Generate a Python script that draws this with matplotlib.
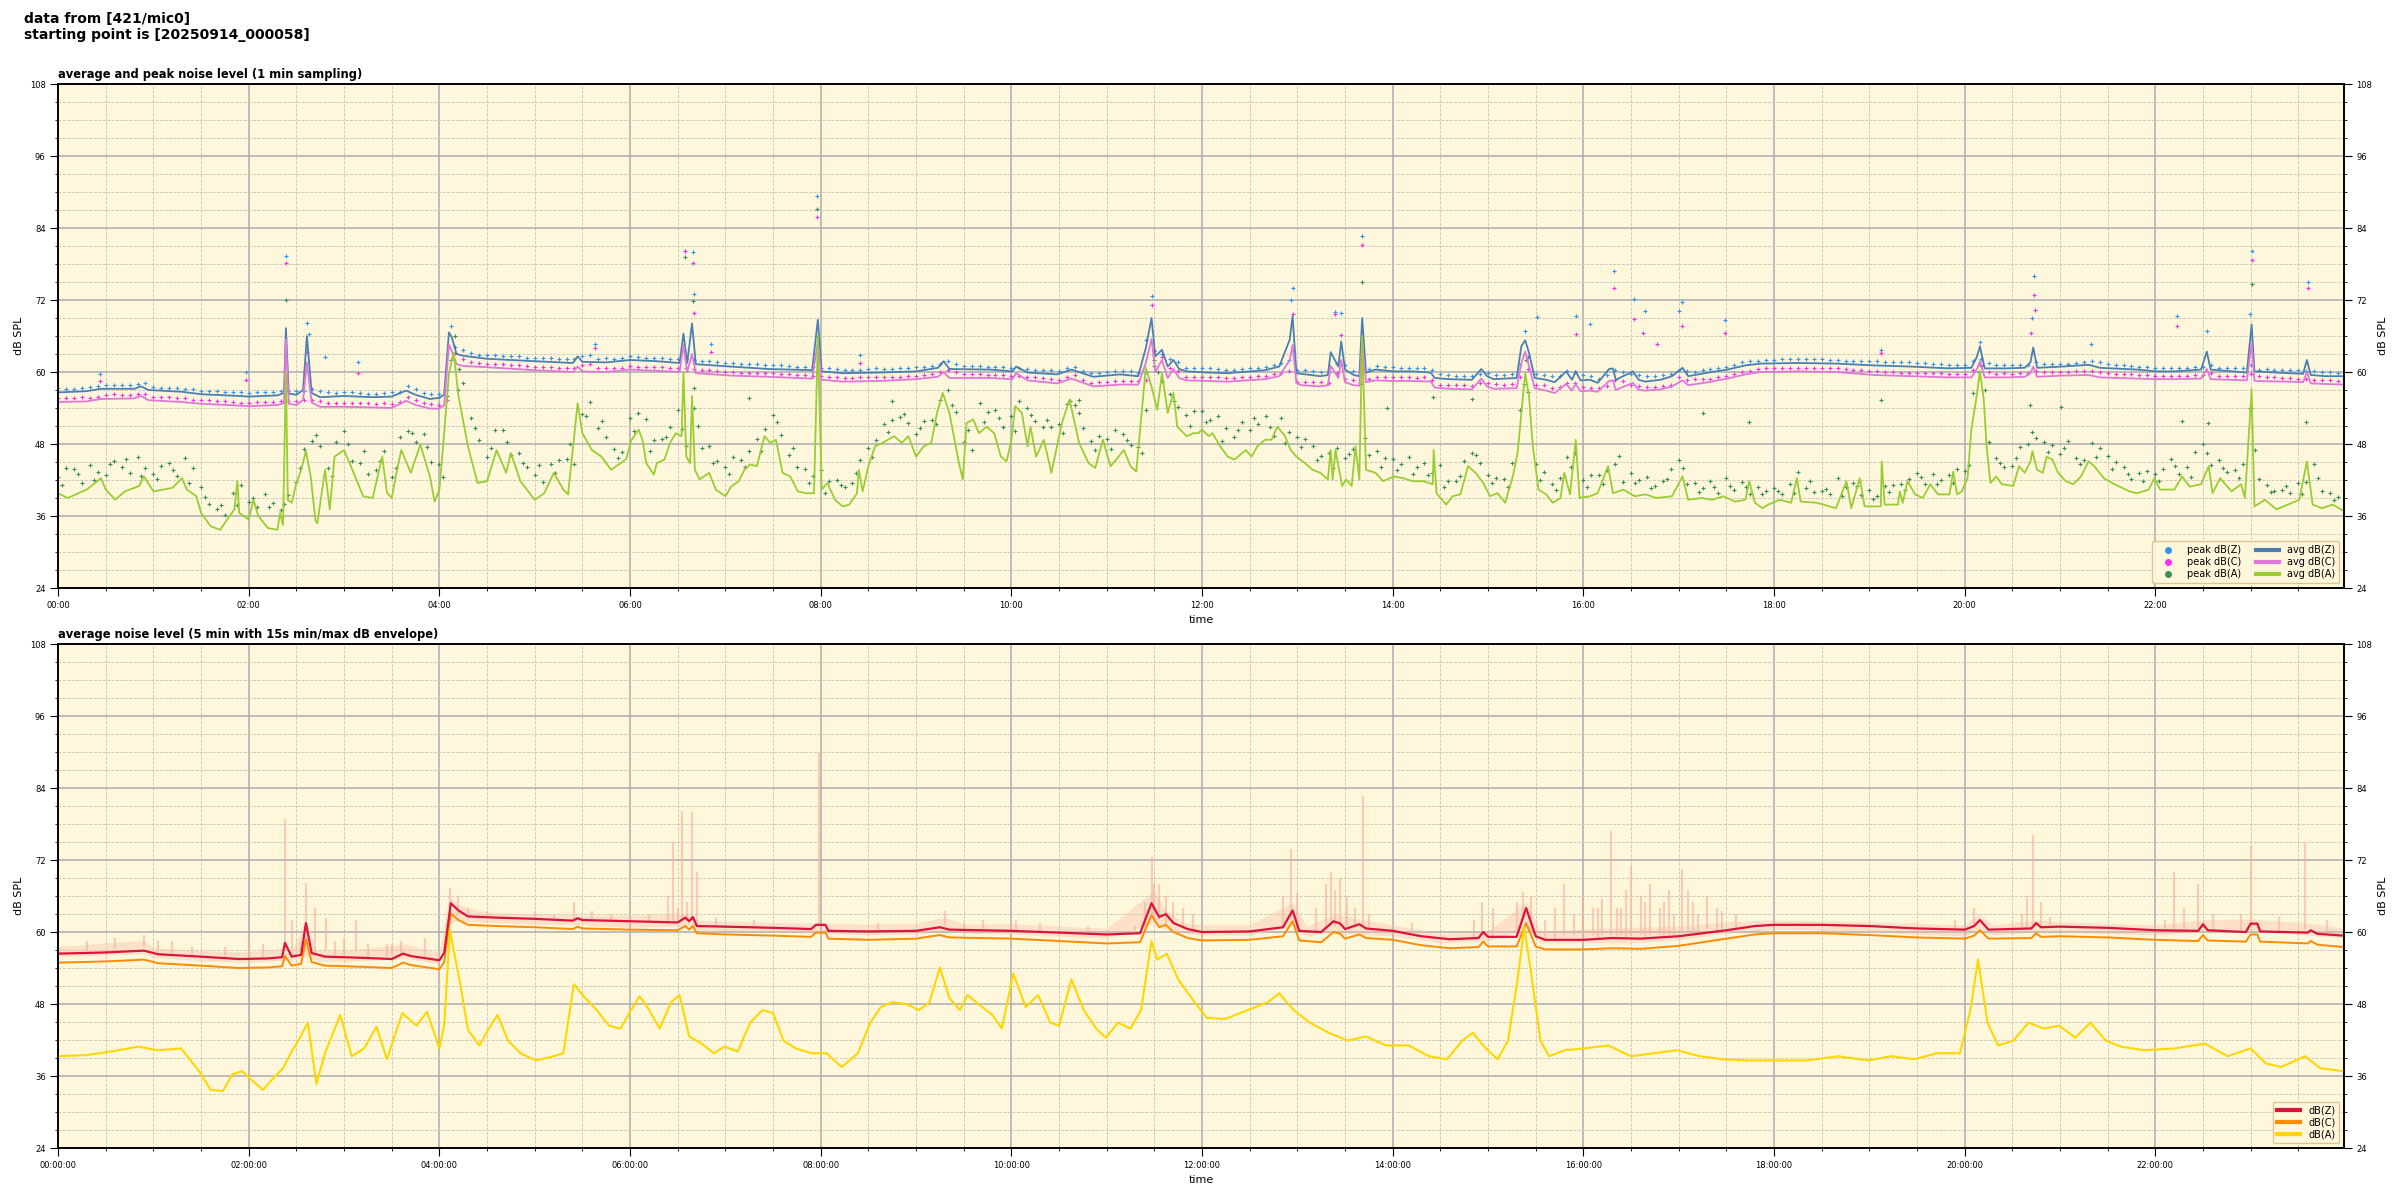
import numpy as np
import matplotlib
matplotlib.use("Agg")
import matplotlib.pyplot as plt
from matplotlib.ticker import MultipleLocator, FuncFormatter
from matplotlib.lines import Line2D

# ---------------- data (hours, dB) ----------------
avg_z = [(0.0,56.6),(0.3,56.8),(0.45,57.2),(0.8,57.2),(0.87,57.6),(0.95,57.0),(1.3,56.7),(1.5,56.3),
 (1.9,56.0),(2.0,55.9),(2.3,56.1),(2.37,56.5),(2.39,67.3),(2.42,56.4),(2.5,56.2),(2.57,57.0),(2.61,66.0),
 (2.66,56.5),(2.75,55.8),(3.0,56.0),(3.3,55.8),(3.5,55.9),(3.65,56.9),(3.75,56.2),(3.9,55.5),(4.0,55.7),
 (4.05,56.2),(4.1,66.6),(4.13,65.8),(4.18,63.0),(4.25,62.7),(4.5,62.2),(5.0,61.8),(5.4,61.5),(5.45,62.6),
 (5.5,61.7),(5.75,61.6),(6.0,62.0),(6.28,61.8),(6.52,61.5),(6.56,66.4),(6.6,61.5),(6.65,68.1),(6.69,61.3),
 (7.06,60.9),(7.45,60.5),(7.91,60.3),(7.97,68.7),(8.01,60.1),(8.23,59.8),(8.61,59.9),(9.0,60.1),(9.23,60.7),
 (9.29,61.8),(9.35,60.5),(9.78,60.4),(10.01,60.1),(10.05,60.9),(10.17,59.9),(10.48,59.6),(10.63,60.4),
 (10.86,59.2),(11.14,59.6),(11.33,59.3),(11.41,64.0),(11.47,69.0),(11.51,62.6),(11.58,63.7),(11.64,60.9),
 (11.7,62.0),(11.76,60.5),(11.84,60.1),(12.07,59.9),(12.27,59.8),(12.66,60.3),(12.81,60.9),(12.92,65.4),
 (12.95,69.3),(12.99,59.8),(13.04,59.7),(13.24,59.3),(13.32,59.5),(13.35,63.3),(13.39,62.1),(13.43,60.9),
 (13.46,65.1),(13.5,60.4),(13.59,59.5),(13.65,59.3),(13.68,69.0),(13.72,59.9),(13.82,60.4),(14.01,60.1),
 (14.21,60.1),(14.4,59.9),(14.44,59.0),(14.6,58.8),(14.83,58.7),(14.93,60.5),(14.99,59.3),(15.06,58.8),
 (15.3,59.0),(15.35,64.3),(15.39,65.3),(15.43,63.2),(15.49,59.0),(15.61,58.7),(15.7,58.3),(15.82,60.1),
 (15.88,58.7),(15.92,60.1),(15.97,58.6),(16.07,58.7),(16.15,58.2),(16.27,60.5),(16.31,60.6),(16.34,58.7),
 (16.52,60.1),(16.58,58.7),(16.65,58.4),(16.81,58.7),(16.93,59.3),(17.04,60.7),(17.1,59.3),(17.31,59.9),
 (17.51,60.4),(17.7,61.1),(17.86,61.4),(18.26,61.5),(18.65,61.4),(19.05,61.1),(19.44,60.9),(19.84,60.6),
 (20.07,60.7),(20.13,62.6),(20.16,64.3),(20.21,60.6),(20.43,60.6),(20.63,60.7),(20.69,61.6),(20.72,64.1),
 (20.76,60.7),(21.02,60.9),(21.3,61.2),(21.42,60.7),(21.81,60.4),(22.01,60.1),(22.2,60.1),(22.48,60.4),
 (22.54,63.4),(22.58,60.4),(22.8,60.1),(22.96,59.9),(23.01,67.9),(23.04,60.1),(23.39,59.8),(23.55,59.7),
 (23.59,62.0),(23.63,59.5),(23.79,59.3),(23.98,59.3)]

avg_c = [(0.0,55.0),(0.3,55.1),(0.45,55.5),(0.8,55.6),(0.87,56.0),(0.95,55.3),(1.3,55.0),(1.5,54.7),
 (1.9,54.4),(2.0,54.3),(2.3,54.5),(2.37,54.8),(2.39,65.4),(2.42,54.7),(2.5,54.5),(2.57,55.3),(2.61,61.6),
 (2.66,54.9),(2.75,54.2),(3.0,54.2),(3.3,54.1),(3.5,54.0),(3.65,55.2),(3.75,54.5),(3.9,53.9),(4.0,53.9),
 (4.05,54.4),(4.1,64.6),(4.13,63.5),(4.18,61.3),(4.25,61.0),(4.5,60.8),(5.0,60.3),(5.4,60.0),(5.45,60.9),
 (5.5,60.1),(5.75,60.0),(6.0,60.4),(6.28,60.2),(6.52,60.0),(6.56,64.5),(6.6,60.0),(6.65,63.0),(6.69,59.8),
 (7.06,59.4),(7.45,59.2),(7.91,58.9),(7.97,65.0),(8.01,58.7),(8.23,58.4),(8.61,58.5),(9.0,58.8),(9.23,59.2),
 (9.29,60.0),(9.35,59.0),(9.78,59.0),(10.01,58.8),(10.05,59.8),(10.17,58.6),(10.48,58.1),(10.63,58.9),
 (10.86,57.6),(11.14,57.9),(11.33,57.9),(11.41,61.5),(11.47,65.5),(11.51,60.0),(11.58,62.0),(11.64,59.0),
 (11.7,60.5),(11.76,59.0),(11.84,58.6),(12.07,58.5),(12.27,58.4),(12.66,58.8),(12.81,59.3),(12.92,62.0),
 (12.95,64.5),(12.99,58.2),(13.04,57.8),(13.24,57.6),(13.32,57.8),(13.35,61.0),(13.39,60.0),(13.43,59.0),
 (13.46,62.0),(13.5,58.3),(13.59,57.8),(13.65,57.7),(13.68,65.0),(13.72,58.3),(13.82,58.6),(14.01,58.5),
 (14.21,58.5),(14.4,58.4),(14.44,57.4),(14.6,57.2),(14.83,57.1),(14.93,58.9),(14.99,57.6),(15.06,57.2),
 (15.3,57.3),(15.35,61.5),(15.39,63.4),(15.43,61.0),(15.49,57.3),(15.61,56.9),(15.7,56.5),(15.82,58.0),
 (15.88,56.9),(15.92,58.0),(15.97,56.8),(16.07,56.9),(16.15,56.7),(16.27,58.5),(16.31,58.6),(16.34,57.0),
 (16.52,58.2),(16.58,57.0),(16.65,56.9),(16.81,57.1),(16.93,57.6),(17.04,58.6),(17.1,57.8),(17.31,58.3),
 (17.51,58.9),(17.7,59.6),(17.86,60.0),(18.26,60.1),(18.65,60.0),(19.05,59.5),(19.44,59.3),(19.84,59.1),
 (20.07,59.1),(20.13,60.5),(20.16,61.8),(20.21,59.1),(20.43,59.1),(20.63,59.2),(20.69,59.8),(20.72,60.9),
 (20.76,59.2),(21.02,59.4),(21.3,59.5),(21.42,59.1),(21.81,58.9),(22.01,58.8),(22.2,58.8),(22.48,58.9),
 (22.54,60.5),(22.58,58.8),(22.8,58.7),(22.96,58.6),(23.01,64.8),(23.04,58.5),(23.39,58.4),(23.55,58.3),
 (23.59,60.0),(23.63,58.1),(23.79,58.0),(23.98,57.9)]

avg_a = [(0.0,39.8),(0.1,39.0),(0.3,40.4),(0.45,42.3),(0.5,40.4),(0.6,38.7),(0.7,40.1),(0.85,41.0),
 (0.9,42.6),(1.0,40.1),(1.2,40.7),(1.3,42.3),(1.35,40.4),(1.45,39.3),(1.5,36.5),(1.6,34.3),(1.7,33.7),
 (1.8,36.0),(1.85,37.1),(1.88,41.8),(1.9,36.5),(1.95,36.0),(2.0,35.4),(2.05,38.7),(2.1,36.0),(2.2,34.0),
 (2.3,33.7),(2.33,36.5),(2.36,34.5),(2.39,60.0),(2.41,38.7),(2.45,38.2),(2.5,41.5),(2.55,43.7),(2.6,46.8),
 (2.65,42.6),(2.7,35.2),(2.72,34.8),(2.8,43.7),(2.85,37.1),(2.9,45.9),(3.0,47.0),(3.1,43.2),(3.2,39.3),
 (3.3,39.0),(3.4,45.9),(3.45,39.9),(3.5,39.0),(3.55,43.2),(3.6,47.0),(3.7,43.2),(3.8,47.9),(3.9,42.6),
 (3.95,38.4),(4.0,40.4),(4.05,49.8),(4.1,59.8),(4.15,63.2),(4.2,56.0),(4.3,47.6),(4.4,41.5),(4.5,41.8),
 (4.6,47.0),(4.7,43.2),(4.75,46.5),(4.85,41.8),(5.0,38.7),(5.1,39.8),(5.2,43.2),(5.3,40.4),(5.35,39.6),
 (5.45,54.8),(5.5,49.8),(5.6,47.0),(5.7,45.9),(5.8,43.7),(5.9,44.8),(5.96,45.5),(6.01,48.5),(6.09,50.4),
 (6.13,48.7),(6.17,44.8),(6.25,42.9),(6.28,44.8),(6.36,45.4),(6.42,48.2),(6.48,49.8),(6.54,49.3),(6.56,60.0),
 (6.59,45.9),(6.63,44.8),(6.65,56.0),(6.68,43.7),(6.73,42.1),(6.83,43.2),(6.9,40.4),(7.0,39.3),(7.06,40.9),
 (7.14,41.8),(7.2,43.7),(7.26,44.6),(7.33,44.3),(7.41,49.3),(7.47,48.2),(7.53,48.7),(7.6,43.2),(7.68,42.6),
 (7.76,40.1),(7.84,39.8),(7.93,39.8),(7.97,66.0),(8.01,40.4),(8.07,41.5),(8.15,38.7),(8.23,37.6),(8.3,37.9),
 (8.38,39.8),(8.4,43.7),(8.44,40.1),(8.5,44.3),(8.57,47.6),(8.65,48.2),(8.77,49.3),(8.85,48.2),(8.92,49.3),
 (9.0,45.9),(9.08,47.6),(9.16,48.2),(9.22,53.2),(9.28,56.5),(9.35,53.2),(9.41,48.2),(9.45,44.8),(9.49,42.1),
 (9.53,51.5),(9.6,52.1),(9.66,49.8),(9.74,50.9),(9.82,49.8),(9.89,45.9),(9.95,45.1),(10.0,48.7),(10.04,54.3),
 (10.11,53.2),(10.17,47.6),(10.2,50.9),(10.26,45.9),(10.34,48.7),(10.42,43.2),(10.53,51.5),(10.61,55.4),
 (10.71,48.2),(10.81,44.8),(10.88,44.0),(10.96,48.7),(11.04,44.3),(11.1,45.4),(11.18,47.0),(11.25,44.3),
 (11.31,43.4),(11.35,50.4),(11.41,60.7),(11.47,57.6),(11.53,53.7),(11.58,59.8),(11.64,53.2),(11.7,56.5),
 (11.74,50.9),(11.84,49.3),(11.91,49.8),(11.96,49.8),(12.0,50.4),(12.07,49.3),(12.11,49.8),(12.19,47.6),
 (12.27,45.9),(12.34,45.4),(12.46,47.0),(12.52,45.9),(12.58,47.6),(12.66,48.7),(12.73,48.7),(12.79,50.9),
 (12.87,49.3),(12.93,47.0),(12.99,45.9),(13.08,44.8),(13.16,43.7),(13.24,43.2),(13.32,42.1),(13.35,47.0),
 (13.37,42.1),(13.4,47.0),(13.47,41.0),(13.51,42.1),(13.57,41.0),(13.61,47.6),(13.65,42.1),(13.68,66.0),
 (13.72,43.7),(13.82,43.2),(13.9,41.8),(14.01,42.6),(14.11,42.3),(14.21,41.8),(14.32,41.8),(14.42,41.3),
 (14.43,47.0),(14.46,39.8),(14.56,37.9),(14.63,39.3),(14.71,39.6),(14.79,44.3),(14.87,43.2),(14.95,41.5),
 (15.02,39.3),(15.1,39.8),(15.18,38.2),(15.26,42.6),(15.31,46.5),(15.35,53.2),(15.39,59.8),(15.43,56.0),
 (15.47,47.6),(15.53,40.4),(15.61,39.6),(15.68,38.2),(15.76,39.0),(15.8,43.2),(15.86,39.6),(15.92,48.7),
 (15.96,39.0),(16.07,39.3),(16.15,39.8),(16.26,44.3),(16.31,39.8),(16.42,40.4),(16.54,39.3),(16.65,39.6),
 (16.77,39.0),(16.93,39.3),(17.04,42.6),(17.1,38.7),(17.24,39.0),(17.35,38.7),(17.47,39.3),(17.59,38.4),
 (17.7,38.7),(17.74,41.8),(17.8,38.2),(17.88,37.3),(17.94,37.9),(18.06,38.7),(18.18,38.2),(18.24,42.3),
 (18.28,38.4),(18.45,38.2),(18.65,37.3),(18.76,41.8),(18.81,37.3),(18.9,42.3),(18.95,37.6),(19.12,37.6),
 (19.13,45.1),(19.16,37.9),(19.3,37.9),(19.32,40.1),(19.35,38.2),(19.4,41.8),(19.48,39.6),(19.56,39.0),
 (19.64,41.3),(19.72,39.6),(19.84,39.6),(19.88,43.4),(19.92,39.6),(19.97,40.1),(20.03,42.3),(20.07,50.4),
 (20.12,55.4),(20.16,60.1),(20.2,55.4),(20.23,47.6),(20.27,41.5),(20.33,42.6),(20.39,41.3),(20.51,41.0),
 (20.57,44.3),(20.63,43.2),(20.69,45.1),(20.71,46.8),(20.76,43.7),(20.82,43.2),(20.86,45.9),(20.92,45.4),
 (20.98,43.2),(21.06,41.8),(21.14,41.3),(21.22,42.6),(21.3,45.1),(21.36,44.3),(21.46,42.3),(21.57,41.3),
 (21.73,40.1),(21.81,39.8),(21.93,40.4),(21.99,42.3),(22.05,40.4),(22.2,40.4),(22.28,42.6),(22.36,40.9),
 (22.48,41.3),(22.56,44.3),(22.6,39.8),(22.68,42.3),(22.8,40.1),(22.9,41.3),(22.94,39.0),(23.01,57.1),
 (23.04,37.6),(23.15,38.7),(23.27,37.1),(23.39,37.9),(23.51,38.7),(23.59,45.1),(23.65,37.9),(23.75,37.3),
 (23.86,37.9),(23.98,36.8)]

# peak values read every 10 minutes, at hh:00, hh:10, ... (24 rows of 6)
peak_z = [57.3,57.2,57.5,57.8,57.9,58.0, 57.5,57.4,57.2,56.9,56.8,56.6,
 56.5,56.7,56.8,56.9,57.1,56.6, 56.6,56.5,56.4,56.6,57.6,56.5,
 56.3,64.2,63.2,62.8,62.7,62.6, 62.4,62.3,62.2,62.7,62.2,62.2,
 62.6,62.4,62.3,62.1,62.0,61.8, 61.5,61.4,61.3,61.1,61.0,60.9,
 60.7,60.5,60.4,60.5,60.5,60.6, 60.8,61.0,61.9,61.0,61.0,60.9,
 60.7,60.5,60.4,60.2,60.9,59.8, 60.0,60.2,59.9,63.5,62.2,60.7,
 60.7,60.5,60.4,60.6,60.9,61.5, 60.4,60.1,60.0,61.2,60.2,61.0,
 60.8,60.7,60.7,59.7,59.4,59.4, 59.9,59.5,61.1,59.6,59.4,60.2,
 59.5,58.9,60.4,59.6,59.3,59.5, 60.4,60.0,60.5,60.9,61.6,61.9,
 62.0,62.1,62.1,62.1,62.0,61.9, 61.8,61.7,61.6,61.5,61.4,61.2,
 61.2,62.2,61.1,61.1,61.2,61.3, 61.3,61.5,61.8,61.4,61.1,60.9,
 60.7,60.7,60.7,60.9,60.6,60.6, 61.1,60.5,60.4,60.3,60.2,60.0]
peak_c = [55.6,55.7,55.7,56.1,56.2,56.3, 55.9,55.8,55.6,55.3,55.2,55.0,
 54.9,55.0,55.1,55.1,55.4,54.9, 54.8,54.8,54.7,54.6,55.8,54.8,
 54.5,63.1,61.6,61.4,61.3,61.1, 60.9,60.8,60.6,61.2,60.7,60.6,
 61.0,60.9,60.8,60.6,60.5,60.3, 60.0,59.9,59.9,59.8,59.7,59.5,
 59.3,59.1,59.0,59.1,59.1,59.2, 59.4,59.6,60.4,59.6,59.6,59.5,
 59.4,59.2,59.0,58.7,59.5,58.2, 58.4,58.5,58.5,63.6,60.6,59.2,
 59.1,59.1,59.0,59.2,59.4,59.9, 58.4,58.3,58.2,58.9,58.3,59.2,
 59.1,59.1,59.1,57.9,57.8,57.7, 58.1,57.8,59.1,57.9,57.4,58.1,
 57.5,57.3,58.6,57.8,57.5,57.7, 59.1,58.8,58.9,59.3,60.0,60.5,
 60.6,60.7,60.7,60.6,60.6,60.4, 60.1,60.0,59.9,59.9,59.8,59.7,
 59.7,61.1,59.7,59.7,59.8,60.0, 60.0,60.1,60.1,59.8,59.6,59.5,
 59.4,59.4,59.4,59.5,59.3,59.3, 59.6,59.1,59.0,58.9,58.7,58.6]
peak_a = [42.5,43.8,44.5,42.9,44.2,45.8, 43.0,44.9,45.6,40.8,37.2,39.9,
 38.4,39.6,37.0,41.7,48.5,44.0, 50.2,44.8,43.7,42.5,50.1,49.6,
 44.6,66.0,52.4,45.8,50.3,46.5, 42.8,44.6,45.5,53.0,50.6,47.2,
 52.4,52.1,48.8,53.7,54.0,47.6, 44.2,45.3,48.9,52.8,46.1,43.9,
 43.6,42.0,41.5,47.3,51.4,52.5, 49.7,52.0,57.0,48.3,54.8,53.7,
 52.6,54.0,50.8,51.3,54.5,48.5, 48.8,49.6,47.5,61.0,56.4,52.8,
 53.5,52.6,49.2,50.3,52.6,52.4, 49.1,47.6,46.5,45.7,58.0,46.8,
 45.5,45.9,44.8,44.5,41.8,46.5, 42.8,42.2,53.6,44.7,41.3,45.9,
 42.0,42.8,44.7,43.2,42.5,41.9, 45.3,41.5,41.9,42.3,41.7,40.8,
 40.7,41.4,40.6,40.1,42.3,41.5, 40.3,41.0,41.3,43.2,43.0,42.8,
 43.5,61.0,45.6,44.4,48.0,48.3, 46.4,45.7,48.2,46.0,44.1,43.2,
 43.0,45.5,44.2,48.0,45.3,43.6, 54.0,41.2,40.3,41.5,44.6,39.8]

# peak values read at hh:05, hh:15, ... (24 rows of 6)
peak_z_b = [57.2,57.4,57.6,57.9,57.8,58.1, 57.4,57.3,57.1,56.9,56.7,56.6,
 56.6,56.6,56.9,56.8,56.9,56.5, 56.6,56.4,56.5,56.7,57.2,56.3,
 57.0,63.6,62.9,62.8,62.7,62.4, 62.4,62.2,62.2,62.9,62.3,62.3,
 62.5,62.3,62.2,62.1,61.9,61.6, 61.5,61.3,61.2,61.1,60.9,60.8,
 60.6,60.4,60.4,60.6,60.5,60.7, 60.9,61.3,61.4,61.0,60.9,60.8,
 60.6,60.4,60.3,60.7,60.1,59.8, 60.1,60.1,60.0,63.0,61.6,60.6,
 60.6,60.4,60.5,60.7,61.2,62.0, 60.3,60.0,61.4,60.1,60.5,60.9,
 60.7,60.6,60.4,59.5,59.4,59.6, 59.5,59.6,62.5,59.5,59.3,60.0,
 59.3,59.5,60.0,59.5,59.3,59.6, 60.2,60.3,60.7,61.2,61.8,62.0,
 62.1,62.1,62.1,62.0,61.9,61.8, 61.8,61.6,61.6,61.5,61.3,61.2,
 61.8,61.5,61.1,61.2,61.6,61.3, 61.4,61.6,61.6,61.2,61.0,60.8,
 60.7,60.6,60.8,61.2,60.6,60.7, 60.4,60.4,60.3,60.2,60.0,59.9]
peak_c_b = [55.6,55.8,55.9,56.3,56.1,56.4, 55.9,55.7,55.4,55.3,55.1,54.9,
 55.0,55.0,55.2,55.3,55.2,54.9, 54.9,54.8,54.8,55.0,55.4,54.6,
 55.3,62.2,61.5,61.3,61.2,61.0, 60.9,60.7,60.7,61.4,60.7,60.7,
 60.9,60.8,60.7,60.6,60.4,60.2, 60.0,59.9,59.8,59.7,59.5,59.4,
 59.2,59.0,59.1,59.1,59.1,59.3, 59.5,60.0,60.0,59.6,59.5,59.5,
 59.3,59.1,58.8,59.2,58.7,58.3, 58.5,58.5,58.6,62.5,60.2,59.2,
 59.1,59.0,59.1,59.3,59.7,60.2, 58.4,58.3,59.9,58.6,58.8,59.2,
 59.1,59.0,58.6,57.9,57.8,58.2, 58.0,58.0,60.5,57.8,57.5,58.2,
 57.4,57.7,58.5,57.6,57.5,57.8, 58.7,58.9,59.2,59.7,60.2,60.6,
 60.7,60.7,60.6,60.6,60.5,60.3, 60.1,60.0,59.9,59.8,59.8,59.7,
 60.3,60.0,59.8,59.8,60.2,60.0, 60.0,60.1,60.0,59.7,59.6,59.5,
 59.4,59.4,59.5,59.9,59.3,59.3, 59.3,59.1,59.0,58.8,58.7,58.5]
peak_a_b = [44.0,41.5,43.4,45.2,43.1,44.0, 44.3,42.6,44.0,38.0,36.1,41.2,
 37.5,38.2,39.5,47.2,47.6,48.3, 45.1,43.0,46.8,49.1,48.4,45.0,
 56.0,58.2,48.7,50.4,46.2,44.2, 41.6,45.3,44.7,55.0,49.2,46.7,
 53.1,48.6,50.8,47.7,47.4,45.1, 45.8,46.9,50.5,49.5,44.2,42.6,
 41.8,40.8,45.3,48.6,52.0,51.5, 51.9,55.3,53.4,47.0,53.4,50.9,
 55.2,51.8,50.9,54.7,50.6,49.4, 50.3,47.8,53.7,58.5,54.1,53.5,
 52.0,50.6,51.7,51.3,49.3,50.0, 48.8,46.0,47.3,47.1,46.1,45.6,
 44.6,44.1,43.2,41.9,45.2,44.8, 42.4,44.9,56.7,43.4,42.4,46.5,
 42.8,43.6,41.7,42.0,41.0,43.8, 41.3,40.7,39.9,40.4,39.7,40.2,
 39.7,43.3,40.0,39.6,40.8,39.5, 39.4,41.2,42.1,41.4,42.0,43.9,
 56.5,48.3,44.1,47.5,49.0,47.9, 48.5,45.3,47.3,45.0,42.1,43.5,
 43.8,43.0,46.7,44.5,43.4,44.7, 42.2,40.2,39.8,41.7,40.1,39.1]
# peak dB(A) read at hh:02:30, hh:12:30, ... (24 rows of 6)
peak_a_c = [41.2,43.0,42.0,44.6,45.5,42.7, 42.2,43.6,41.5,39.2,37.8,37.9,
 39.0,37.5,38.0,44.0,49.5,42.7, 48.0,46.8,45.2,44.0,49.8,47.5,
 42.5,60.5,50.6,47.3,48.4,44.9, 44.5,43.2,48.0,52.7,51.8,45.6,
 50.2,46.9,49.2,50.5,51.0,44.8, 43.0,44.2,46.8,51.7,47.3,41.5,
 39.8,41.2,43.2,45.8,50.0,53.0, 50.6,51.3,54.5,50.3,51.7,52.4,
 50.1,52.9,52.0,49.8,53.1,47.0, 47.2,48.7,46.5,60.0,55.2,51.0,
 51.6,48.5,50.4,52.3,50.8,48.2, 47.5,45.3,44.0,46.4,49.0,44.2,
 43.7,43.0,42.8,40.9,42.7,46.1, 41.5,40.8,58.0,42.0,40.4,44.1,
 40.9,41.3,46.0,41.5,40.6,42.2, 44.0,40.0,40.8,41.0,40.8,39.6,
 40.1,39.8,41.8,40.5,39.3,41.0, 38.8,40.0,40.3,42.5,41.3,41.5,
 44.5,57.0,44.8,45.6,50.0,46.6, 47.4,44.6,45.9,43.8,43.0,41.8,
 41.8,44.3,42.5,46.5,44.0,42.4, 47.0,40.0,41.0,39.6,42.3,38.6]

# isolated high peak readings (hours, dB)
peak_z_extra = [(2.39,79.4),(2.61,68.2),(2.63,66.3),(2.8,62.5),(3.15,61.7),(0.44,59.6),(1.97,60.0),
 (4.12,67.7),(5.63,64.6),(6.58,80.1),(6.66,80.0),(6.67,73.0),(6.85,64.7),(7.96,89.4),(8.41,62.8),
 (11.47,72.7),(11.41,65.4),(13.68,82.6),(12.95,74.0),(12.93,72.0),(13.4,70.0),(13.46,69.8),(16.32,76.9),
 (16.53,72.1),(16.65,70.1),(17.04,71.7),(17.0,70.1),(15.51,69.1),(15.92,69.4),(16.07,68.0),(17.49,68.7),
 (15.39,66.9),(20.73,76.0),(20.71,69.0),(23.01,80.1),(23.6,75.0),(22.23,69.3),(22.54,66.8),(22.99,69.7),
 (20.16,65.0),(19.12,63.7),(21.32,64.7)]
peak_c_extra = [(2.39,78.2),(2.61,63.4),(3.15,59.8),(0.44,58.5),(1.97,58.7),(5.63,64.0),(6.58,80.1),
 (6.66,78.2),(6.67,69.8),(6.85,63.3),(7.96,85.9),(8.41,61.5),(11.47,71.2),(13.68,81.1),(12.95,69.7),
 (13.4,69.7),(13.46,66.2),(16.32,74.0),(16.53,68.8),(17.04,67.6),(15.92,66.4),(17.49,66.5),(16.63,66.5),
 (16.77,64.6),(20.73,72.8),(20.74,70.3),(20.7,66.5),(23.01,78.6),(23.6,74.0),(22.23,67.7),(19.12,63.1)]
peak_a_extra = [(2.39,72.0),(6.58,79.2),(6.66,71.8),(6.67,57.3),(7.96,87.2),(13.68,75.0),(23.01,74.7),
 (19.12,55.3),(20.69,54.5),(21.01,54.1),(22.28,51.9),(22.55,51.5),(22.99,54.0),(23.58,51.7),(14.42,55.8),
 (14.83,55.5),(13.94,54.0),(17.26,53.2),(17.74,51.7),(7.25,55.6),(8.75,55.2),(10.71,55.3),(10.61,55.1),
 (4.12,62.0),(4.2,57.0),(11.5,62.0),(15.4,62.0),(20.15,60.0)]

# 5-minute averages (lower panel)
avg5_z = [(0.0,56.4),(0.5,56.6),(0.9,56.9),(1.05,56.3),(1.5,55.9),(1.9,55.5),(2.2,55.6),(2.35,55.8),
 (2.38,58.2),(2.45,55.9),(2.55,56.2),(2.6,61.5),(2.66,56.5),(2.8,55.9),(3.2,55.7),(3.5,55.5),(3.62,56.4),
 (3.7,56.0),(4.0,55.3),(4.05,56.5),(4.12,64.8),(4.2,63.6),(4.3,62.6),(4.6,62.4),(5.0,62.2),(5.4,61.9),
 (5.45,62.3),(5.5,62.0),(6.0,61.8),(6.5,61.6),(6.58,62.4),(6.62,61.8),(6.66,62.5),(6.7,61.0),(7.0,60.9),
 (7.5,60.7),(7.9,60.5),(7.95,61.2),(8.05,61.2),(8.08,60.2),(8.5,60.1),(9.0,60.2),(9.25,60.8),(9.35,60.4),
 (10.0,60.2),(10.5,59.9),(11.0,59.6),(11.35,59.8),(11.47,64.8),(11.55,62.5),(11.62,63.0),(11.7,61.5),
 (11.85,60.5),(12.0,60.0),(12.5,60.1),(12.85,60.8),(12.95,63.6),(13.02,60.2),(13.25,60.0),(13.38,61.8),
 (13.45,61.4),(13.5,60.5),(13.65,61.3),(13.72,60.6),(14.0,60.2),(14.3,59.3),(14.6,58.8),(14.9,59.0),
 (14.95,60.0),(15.0,59.2),(15.3,59.2),(15.4,64.0),(15.5,59.3),(15.6,58.7),(16.0,58.7),(16.3,59.0),
 (16.6,58.9),(17.0,59.3),(17.5,60.3),(17.8,61.0),(18.0,61.2),(18.5,61.2),(19.0,61.0),(19.5,60.6),
 (20.0,60.4),(20.1,61.0),(20.16,62.0),(20.25,60.4),(20.7,60.6),(20.75,61.5),(20.8,60.8),(21.0,60.9),
 (21.5,60.7),(22.0,60.3),(22.45,60.2),(22.5,61.3),(22.55,60.3),(22.95,60.0),(23.0,61.4),(23.07,61.4),
 (23.1,60.1),(23.6,59.9),(23.63,60.3),(23.7,59.7),(23.98,59.4)]
avg5_c = [(0.0,54.9),(0.5,55.1),(0.9,55.4),(1.05,54.8),(1.5,54.4),(1.9,54.0),(2.2,54.1),(2.35,54.3),
 (2.38,56.0),(2.45,54.4),(2.55,54.7),(2.6,58.8),(2.66,55.0),(2.8,54.4),(3.2,54.2),(3.5,54.0),(3.62,54.9),
 (3.7,54.5),(4.0,53.8),(4.05,55.0),(4.12,63.1),(4.2,62.0),(4.3,61.2),(4.6,61.0),(5.0,60.8),(5.4,60.5),
 (5.45,60.9),(5.5,60.6),(6.0,60.4),(6.5,60.3),(6.58,61.0),(6.62,60.4),(6.66,61.0),(6.7,59.8),(7.0,59.6),
 (7.5,59.4),(7.9,59.2),(7.95,59.9),(8.05,59.9),(8.08,58.9),(8.5,58.7),(9.0,58.9),(9.25,59.5),(9.35,59.1),
 (10.0,58.9),(10.5,58.5),(11.0,58.1),(11.35,58.3),(11.47,62.8),(11.55,60.8),(11.62,61.2),(11.7,60.0),
 (11.85,59.0),(12.0,58.6),(12.5,58.7),(12.85,59.3),(12.95,61.8),(13.02,58.6),(13.25,58.3),(13.38,60.0),
 (13.45,59.7),(13.5,58.9),(13.65,59.6),(13.72,59.0),(14.0,58.7),(14.3,57.8),(14.6,57.3),(14.9,57.5),
 (14.95,58.4),(15.0,57.6),(15.3,57.6),(15.4,61.5),(15.5,57.6),(15.6,57.1),(16.0,57.1),(16.3,57.3),
 (16.6,57.2),(17.0,57.7),(17.5,58.9),(17.8,59.6),(18.0,59.8),(18.5,59.8),(19.0,59.5),(19.5,59.1),
 (20.0,58.9),(20.1,59.4),(20.16,60.3),(20.25,58.9),(20.7,59.0),(20.75,59.8),(20.8,59.2),(21.0,59.3),
 (21.5,59.1),(22.0,58.7),(22.45,58.5),(22.5,59.5),(22.55,58.6),(22.95,58.4),(23.0,59.6),(23.07,59.6),
 (23.1,58.4),(23.6,58.1),(23.63,58.5),(23.7,57.9),(23.98,57.5)]
avg5_a = [(0.0,39.3),(0.3,39.5),(0.6,40.2),(0.84,40.9),(1.04,40.3),(1.29,40.6),(1.48,36.8),(1.6,33.7),
 (1.73,33.5),(1.83,36.3),(1.93,36.8),(2.04,35.2),(2.15,33.7),(2.25,35.5),(2.36,37.3),(2.44,39.8),(2.52,41.9),
 (2.62,44.9),(2.71,34.7),(2.8,39.8),(2.96,46.2),(3.08,39.3),(3.21,40.6),(3.34,44.2),(3.45,38.8),(3.61,46.5),
 (3.76,44.4),(3.87,46.7),(4.0,40.6),(4.05,44.4),(4.11,60.3),(4.21,52.1),(4.3,43.7),(4.42,41.1),(4.51,43.7),
 (4.61,46.2),(4.72,41.9),(4.85,39.8),(5.01,38.6),(5.2,39.3),(5.3,39.8),(5.41,51.3),(5.53,49.0),(5.65,47.0),
 (5.78,44.4),(5.9,43.9),(6.01,47.0),(6.1,49.3),(6.2,47.0),(6.31,43.9),(6.43,48.3),(6.52,49.5),(6.62,42.6),
 (6.75,41.4),(6.88,39.8),(6.99,40.9),(7.13,40.1),(7.26,44.9),(7.39,47.0),(7.5,46.5),(7.61,41.9),(7.74,40.6),
 (7.9,39.8),(8.06,39.8),(8.22,37.5),(8.39,39.8),(8.52,44.9),(8.63,47.5),(8.75,48.3),(8.9,48.0),(9.03,47.0),
 (9.14,48.3),(9.25,54.1),(9.35,49.0),(9.46,47.0),(9.54,49.5),(9.67,47.8),(9.8,46.2),(9.9,43.9),(10.02,53.1),
 (10.15,47.5),(10.28,49.5),(10.41,44.9),(10.5,44.4),(10.63,52.1),(10.76,47.0),(10.89,43.9),(10.99,42.4),
 (11.12,44.9),(11.25,43.9),(11.36,47.0),(11.47,58.5),(11.53,55.4),(11.63,56.4),(11.75,52.1),(11.89,49.0),
 (12.05,45.7),(12.24,45.5),(12.48,47.0),(12.69,48.3),(12.81,49.8),(12.96,47.0),(13.13,44.9),(13.33,43.2),
 (13.53,41.9),(13.72,42.6),(13.93,41.1),(14.17,41.1),(14.38,39.3),(14.57,38.8),(14.73,41.9),(14.84,43.2),
 (14.96,40.9),(15.1,38.8),(15.21,41.9),(15.31,52.1),(15.38,60.8),(15.45,53.4),(15.55,41.9),(15.64,39.3),
 (15.8,40.3),(16.01,40.6),(16.26,41.1),(16.5,39.3),(16.74,39.8),(16.98,40.3),(17.22,39.3),(17.46,38.8),
 (17.7,38.6),(18.02,38.6),(18.35,38.6),(18.67,39.3),(18.99,38.6),(19.23,39.3),(19.47,38.8),(19.71,39.8),
 (19.95,39.8),(20.06,47.0),(20.14,55.4),(20.24,44.9),(20.35,41.1),(20.51,41.9),(20.67,44.9),(20.83,43.9),
 (20.99,44.4),(21.16,42.4),(21.32,44.9),(21.48,41.9),(21.64,40.9),(21.88,40.3),(22.2,40.6),(22.52,41.4),
 (22.76,39.3),(23.0,40.6),(23.16,38.1),(23.32,37.5),(23.57,39.3),(23.73,37.3),(23.98,36.8)]

# 15 s min / max envelope of dB(Z): band (hours, min, max) and isolated max spikes (hours, min, max)
env_band = [(0.0,55.9,57.6),(0.5,56.2,58.2),(0.9,56.4,58.6),(1.0,55.8,57.4),(1.5,55.2,56.9),(2.0,54.9,56.7),
 (2.35,55.3,57.3),(2.45,55.3,57.0),(2.6,56.0,62.0),(2.7,55.2,57.0),(3.0,55.1,56.9),(3.65,55.6,58.0),
 (4.0,54.7,56.5),(4.1,61.5,66.0),(4.2,61.8,64.5),(4.5,61.6,63.3),(5.0,61.3,63.0),(5.5,61.2,62.8),
 (6.0,60.8,62.8),(6.6,61.0,63.0),(6.7,60.3,62.0),(7.0,60.3,61.8),(7.5,60.0,61.6),(8.0,59.8,61.5),
 (8.5,59.6,61.3),(9.0,59.7,61.5),(9.3,60.3,62.5),(9.5,59.8,61.3),(10.0,59.7,61.4),(10.5,59.3,61.0),
 (11.0,59.0,60.6),(11.5,61.5,67.0),(11.6,60.5,64.0),(11.8,59.8,61.6),(12.0,59.5,61.2),(12.5,59.5,61.2),
 (12.95,61.0,65.0),(13.1,59.3,61.0),(13.4,60.0,63.0),(13.7,59.5,62.0),(14.0,59.4,61.2),(14.5,58.2,59.8),
 (15.0,58.5,60.2),(15.4,60.5,65.0),(15.55,58.2,60.2),(16.0,58.2,60.5),(16.5,58.2,60.8),(17.0,58.7,61.0),
 (17.5,59.8,61.7),(18.0,60.5,62.0),(19.0,60.0,61.7),(20.0,59.3,61.2),(20.15,60.5,63.0),(20.3,59.5,61.2),
 (20.75,60.0,62.0),(21.0,60.0,61.7),(22.0,59.5,61.2),(22.5,60.0,62.0),(23.0,60.3,62.2),(23.6,59.5,61.5),
 (23.98,59.0,60.7)]
env_spikes = [(2.38,57,78.9),(2.6,60,68.2),(2.81,57,62.3),(3.12,57,62),(4.11,64,67.4),(5.41,62,65),
 (6.55,62,80.2),(6.65,62,80),(7.98,61,89.9),(9.3,61,63.5),(11.47,63,72.5),(11.55,62,68),(11.62,61,66),
 (12.93,62,73.8),(13.35,61,70),(13.4,61,67),(13.52,61,66),(13.69,61,82.7),(14.94,59.5,65),(15.37,62,66.6),
 (15.8,59.5,68),(15.9,59.5,63),(16.0,59.5,66),(16.1,59.5,64),(16.2,59.5,65.5),(16.29,59.5,76.9),
 (16.4,59.5,64),(16.5,59.5,71),(16.6,59.5,66),(16.7,59.5,68),(16.8,59.5,64),(16.9,59.5,67),(17.03,60,70.5),
 (17.15,60,65),(17.3,60.5,66),(17.45,60.5,63.5),(20.1,61,64),(20.72,61,76.1),(20.8,61,65),(22.2,60.5,70),
 (22.45,60.5,68),(23.0,61,74.3),(23.57,60.5,74.8),(0.9,57.5,59.5),(1.2,56.5,58.5),(3.5,56,58),(6.5,62,64),
 (6.6,62,65),(0.3,57,58.5),(0.6,57,59),(1.05,56.5,58.5),(1.4,56,57.5),(1.75,55.5,57.5),(2.0,55.5,59),
 (2.15,55.5,58),(2.45,56,62),(2.55,56,58.5),(2.7,56,64),(2.9,56,58.5),(3.0,56,59),(3.25,55.8,58),
 (3.45,55.8,58),(3.6,56,58.5),(3.85,55.8,59),(4.2,63,66),(4.3,62.5,64),(4.5,62.3,63.5),(5.0,62,63.5),
 (5.2,62,63),(5.6,62,63.5),(5.8,62,63),(6.2,61.8,63),(6.4,61.8,66),(6.45,61.8,75),(6.7,61,70),(6.9,61,62.5),
 (7.3,60.8,62),(8.6,60.2,61.5),(9.5,60.3,61.5),(9.7,60.3,62),(10.05,60.3,62),(10.3,60,61.5),(10.8,59.8,61),
 (11.3,59.8,61),(11.4,60,65),(11.5,62,68),(11.7,61.5,65),(11.8,61,64),(11.9,60.5,63),(12.85,60.5,66),
 (13.0,60.5,66.5),(13.2,60.2,64),(13.3,60.5,68),(13.45,61,69),(13.6,61,64),(13.75,60.8,63),(14.2,60,61.5),
 (14.85,59.2,62),(15.05,59.3,64),(15.3,59.5,65),(15.45,60,66),(15.6,59,62),(15.7,59,64),(16.15,59,64),
 (16.35,59,64),(16.45,59,67),(16.65,59,65),(16.85,59.3,65),(16.95,59.3,63),(17.1,59.5,67),(17.2,59.8,63),
 (17.4,60,64),(17.6,60.5,63),(19.9,60.5,62),(20.6,60.8,63),(20.65,60.8,66),(20.9,60.9,62.5),(22.1,60.5,62),
 (22.3,60.4,64),(22.6,60.4,63),(22.9,60.2,63),(23.3,60,62.5),(23.8,59.6,62)]

suptitle = "data from [421/mic0]\nstarting point is [20250914_000058]"
title_top = "average and peak noise level (1 min sampling)"
title_bottom = "average noise level (5 min with 15s min/max dB envelope)"

# ---------------- plotting ----------------
BG = "#fff7dc"
plt.rcParams["font.family"] = ["DejaVu Sans"]

fig = plt.figure(figsize=(24, 12), dpi=100)
fig.patch.set_facecolor("white")
ax1 = fig.add_axes([0.0242, 0.51, 0.9525, 0.42])
ax2 = fig.add_axes([0.0242, 0.0433, 0.9525, 0.42])


def xy(pairs):
    a = np.array(pairs, dtype=float)
    return a[:, 0], a[:, 1]


def style(ax, fmt):
    ax.set_facecolor(BG)
    ax.set_xlim(0, 23.98)
    ax.set_ylim(24, 108)
    ax.xaxis.set_major_locator(MultipleLocator(2))
    ax.xaxis.set_minor_locator(MultipleLocator(0.5))
    ax.yaxis.set_major_locator(MultipleLocator(12))
    ax.yaxis.set_minor_locator(MultipleLocator(3))
    ax.xaxis.set_major_formatter(FuncFormatter(fmt))
    ax.grid(which="major", color="#acacac", lw=1.1)
    ax.grid(which="minor", color="#c9c3b5", ls="--", lw=0.6)
    ax.set_axisbelow(True)
    ax.tick_params(which="major", labelsize=6, length=5.5, width=0.8)
    ax.tick_params(which="minor", length=2.5, width=0.6)
    for s in ax.spines.values():
        s.set_linewidth(1.2)
    ax.set_xlabel("time", fontsize=8)
    ax.set_ylabel("dB SPL", fontsize=8)
    tw = ax.twinx()
    tw.set_ylim(24, 108)
    tw.yaxis.set_major_locator(MultipleLocator(12))
    tw.yaxis.set_minor_locator(MultipleLocator(3))
    tw.tick_params(which="major", labelsize=6, length=5.5, width=0.8)
    tw.tick_params(which="minor", length=2.5, width=0.6)
    tw.set_ylabel("dB SPL", fontsize=8)
    for s in tw.spines.values():
        s.set_linewidth(1.2)
    return tw


def fmt_hm(v, pos):
    m = int(round(v * 60))
    return f"{m // 60:02d}:{m % 60:02d}"


def fmt_hms(v, pos):
    m = int(round(v * 60))
    return f"{m // 60:02d}:{m % 60:02d}:00"


style(ax1, fmt_hm)
style(ax2, fmt_hms)

# ---- top panel ----
t10 = np.arange(len(peak_z)) / 6.0
t10b = t10 + 1.0 / 12.0
t10c = t10 + 1.0 / 24.0
for sets, extra, col in [([(t10, peak_z), (t10b, peak_z_b)], peak_z_extra, "#2f95f5"),
                         ([(t10, peak_c), (t10b, peak_c_b)], peak_c_extra, "#ff2cf0"),
                         ([(t10, peak_a), (t10b, peak_a_b), (t10c, peak_a_c)], peak_a_extra, "#3a8c5c")]:
    ex_t, ex_v = xy(extra)
    tt = np.concatenate([s[0] for s in sets] + [ex_t])
    vv = np.concatenate([np.array(s[1]) for s in sets] + [ex_v])
    ax1.plot(tt, vv, ls="none", marker="+", ms=3.2, mew=0.8, color=col, zorder=3)

for pairs, col in [(avg_z, "#4a7fb0"), (avg_c, "#df78d8"), (avg_a, "#9acd32")]:
    t, v = xy(pairs)
    ax1.plot(t, v, color=col, lw=1.3, zorder=4)

handles = [Line2D([], [], ls="none", marker="o", ms=4, color="#2f95f5"),
           Line2D([], [], ls="none", marker="o", ms=4, color="#ff2cf0"),
           Line2D([], [], ls="none", marker="o", ms=4, color="#3a8c5c"),
           Line2D([], [], color="#4a7fb0", lw=3),
           Line2D([], [], color="#df78d8", lw=3),
           Line2D([], [], color="#9acd32", lw=3)]
labels = ["peak dB(Z)", "peak dB(C)", "peak dB(A)", "avg dB(Z)", "avg dB(C)", "avg dB(A)"]
leg1 = ax1.legend(handles, labels, loc="lower right", ncol=2, fontsize=7, handlelength=2.4,
                  columnspacing=1.5, labelspacing=0.2, borderpad=0.4, facecolor=BG,
                  edgecolor="#dcbf8e", framealpha=0.9)
leg1.get_frame().set_linewidth(1.0)
ax1.set_title(title_top, loc="left", fontsize=8.3, fontweight="bold", pad=4)

# ---- bottom panel ----
et = np.array([e[0] for e in env_band])
elo = np.array([e[1] for e in env_band])
ehi = np.array([e[2] for e in env_band])
ax2.fill_between(et, elo, ehi, color="#f7b9a3", alpha=0.35, lw=0, zorder=2)
st = np.array([e[0] for e in env_spikes])
slo = np.array([e[1] for e in env_spikes])
shi = np.array([e[2] for e in env_spikes])
ax2.vlines(st, slo, shi, color="#f5b29c", lw=1.6, alpha=0.6, zorder=2)

t, v = xy(avg5_c)
ax2.plot(t, v, color="#ff8c00", lw=1.4, zorder=3)
t, v = xy(avg5_z)
ax2.plot(t, v, color="#dc143c", lw=1.6, zorder=4)
t, v = xy(avg5_a)
ax2.plot(t, v, color="#ffd700", lw=1.5, zorder=4)

h2 = [Line2D([], [], color="#dc143c", lw=3),
      Line2D([], [], color="#ff8c00", lw=3),
      Line2D([], [], color="#ffd700", lw=3)]
leg2 = ax2.legend(h2, ["dB(Z)", "dB(C)", "dB(A)"], loc="lower right", fontsize=7, handlelength=2.4,
                  labelspacing=0.2, borderpad=0.4, facecolor=BG, edgecolor="#dcbf8e", framealpha=0.9)
leg2.get_frame().set_linewidth(1.0)
ax2.set_title(title_bottom, loc="left", fontsize=8.3, fontweight="bold", pad=4)

fig.text(0.0102, 0.99, suptitle, ha="left", va="top", fontsize=10, fontweight="bold")

fig.savefig("out.png", dpi=100, facecolor="white")
